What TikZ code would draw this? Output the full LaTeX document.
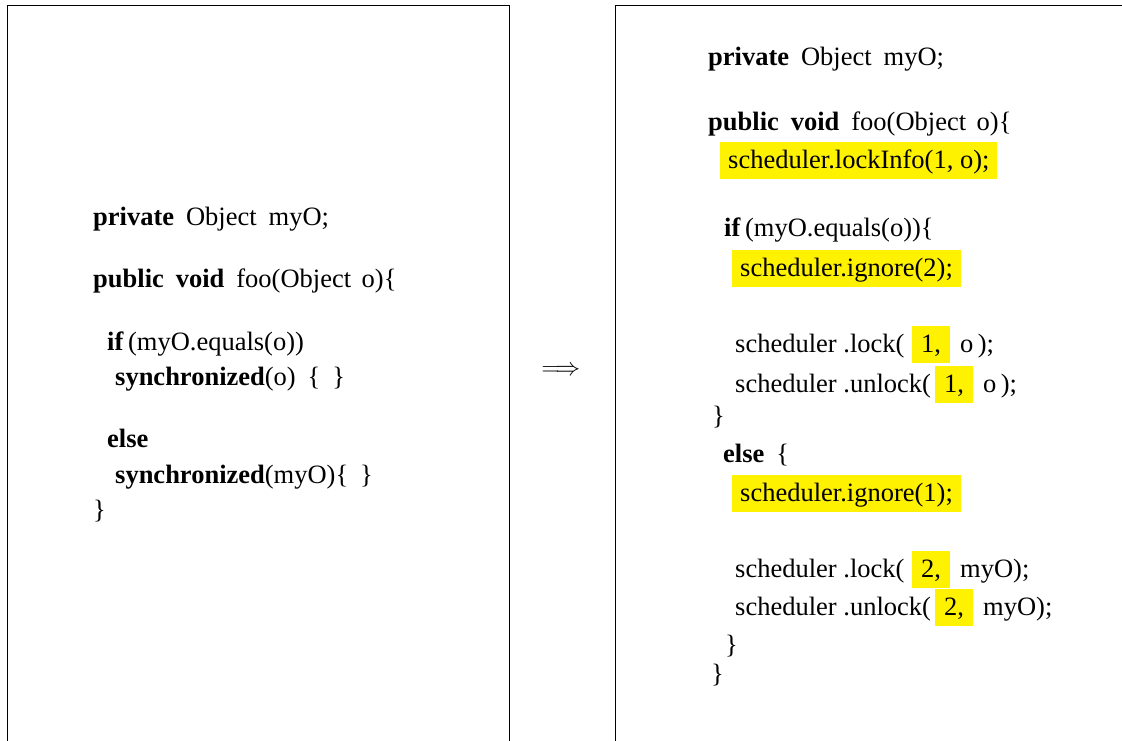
\documentclass[tikz,border=0pt]{standalone}
\usepackage{fontspec}
\setmainfont{Liberation Serif}
\definecolor{hlyellow}{RGB}{255,242,0}
\newcommand\gapw{\hspace{0.45em}}
\newcommand\pubsig{\textbf{public}\gapw\textbf{void}\gapw foo(Object\hspace{0.4em}o)\{}
\tikzset{
  code/.style={anchor=base west, inner sep=0pt, font=\fontsize{26.5}{32}\selectfont},
  hl/.style={code, fill=hlyellow, inner xsep=8pt, inner ysep=4pt, text height=22pt, text depth=7pt},
  hlnum/.style={hl, inner xsep=9pt},
  frame/.style={draw=black, line width=1pt},
}
\begin{document}
\begin{tikzpicture}[x=1pt,y=-1pt]
\useasboundingbox (0,0) rectangle (1122,740);
% the two panels, open at the bottom
\draw[frame] (7,745) -- (7,5) -- (509,5) -- (509,745);
\draw[frame] (615,745) -- (615,5) -- (1130,5);

% original code
\node[code] (l1) at (93,225) {\textbf{private}\gapw Object\gapw myO;};
\node[code] (l2) at (93,287) {\pubsig};
\node[code] (l3) at (107,350) {\textbf{if}\,(myO.equals(o))};
\node[code] (l4) at (115,385) {\textbf{synchronized}(o)\gapw\{\gapw\}};
\node[code] (l5) at (107,447) {\textbf{else}};
\node[code] (l6) at (115,483) {\textbf{synchronized}(myO)\{\gapw\}};
\node[code] (l7) at (93,518) {\}};

% transformation arrow
\node[inner sep=0pt, font=\fontsize{26.5}{32}\selectfont] (arr) at (561,371) {$\Longrightarrow$};

% instrumented code
\node[code] (r1) at (708,65) {\textbf{private}\gapw Object\gapw myO;};
\node[code] (r2) at (708,130) {\pubsig};
\node[hl] (r3) at (720,168) {scheduler.lockInfo(1, o);};
\node[code] (r4) at (724,236) {\textbf{if}\,(myO.equals(o))\{};
\node[hl] (r5) at (732,276) {scheduler.ignore(2);};
\node[code] (r6a) at (735,352) {scheduler .lock(};
\node[hlnum] (r6b) at (912,352) {1,};
\node[code] (r6c) at (960,352) {o\,);};
\node[code] (r7a) at (735,392) {scheduler .unlock(};
\node[hlnum] (r7b) at (935,392) {1,};
\node[code] (r7c) at (983,392) {o\,);};
\node[code] (r8) at (712,424) {\}};
\node[code] (r9) at (723,462) {\textbf{else}\gapw\{};
\node[hl] (r10) at (732,501) {scheduler.ignore(1);};
\node[code] (r11a) at (735,577) {scheduler .lock(};
\node[hlnum] (r11b) at (912,577) {2,};
\node[code] (r11c) at (960,577) {myO);};
\node[code] (r12a) at (735,615) {scheduler .unlock(};
\node[hlnum] (r12b) at (935,615) {2,};
\node[code] (r12c) at (983,615) {myO);};
\node[code] (r13) at (725,653) {\}};
\node[code] (r14) at (711,682) {\}};
\end{tikzpicture}
\end{document}
